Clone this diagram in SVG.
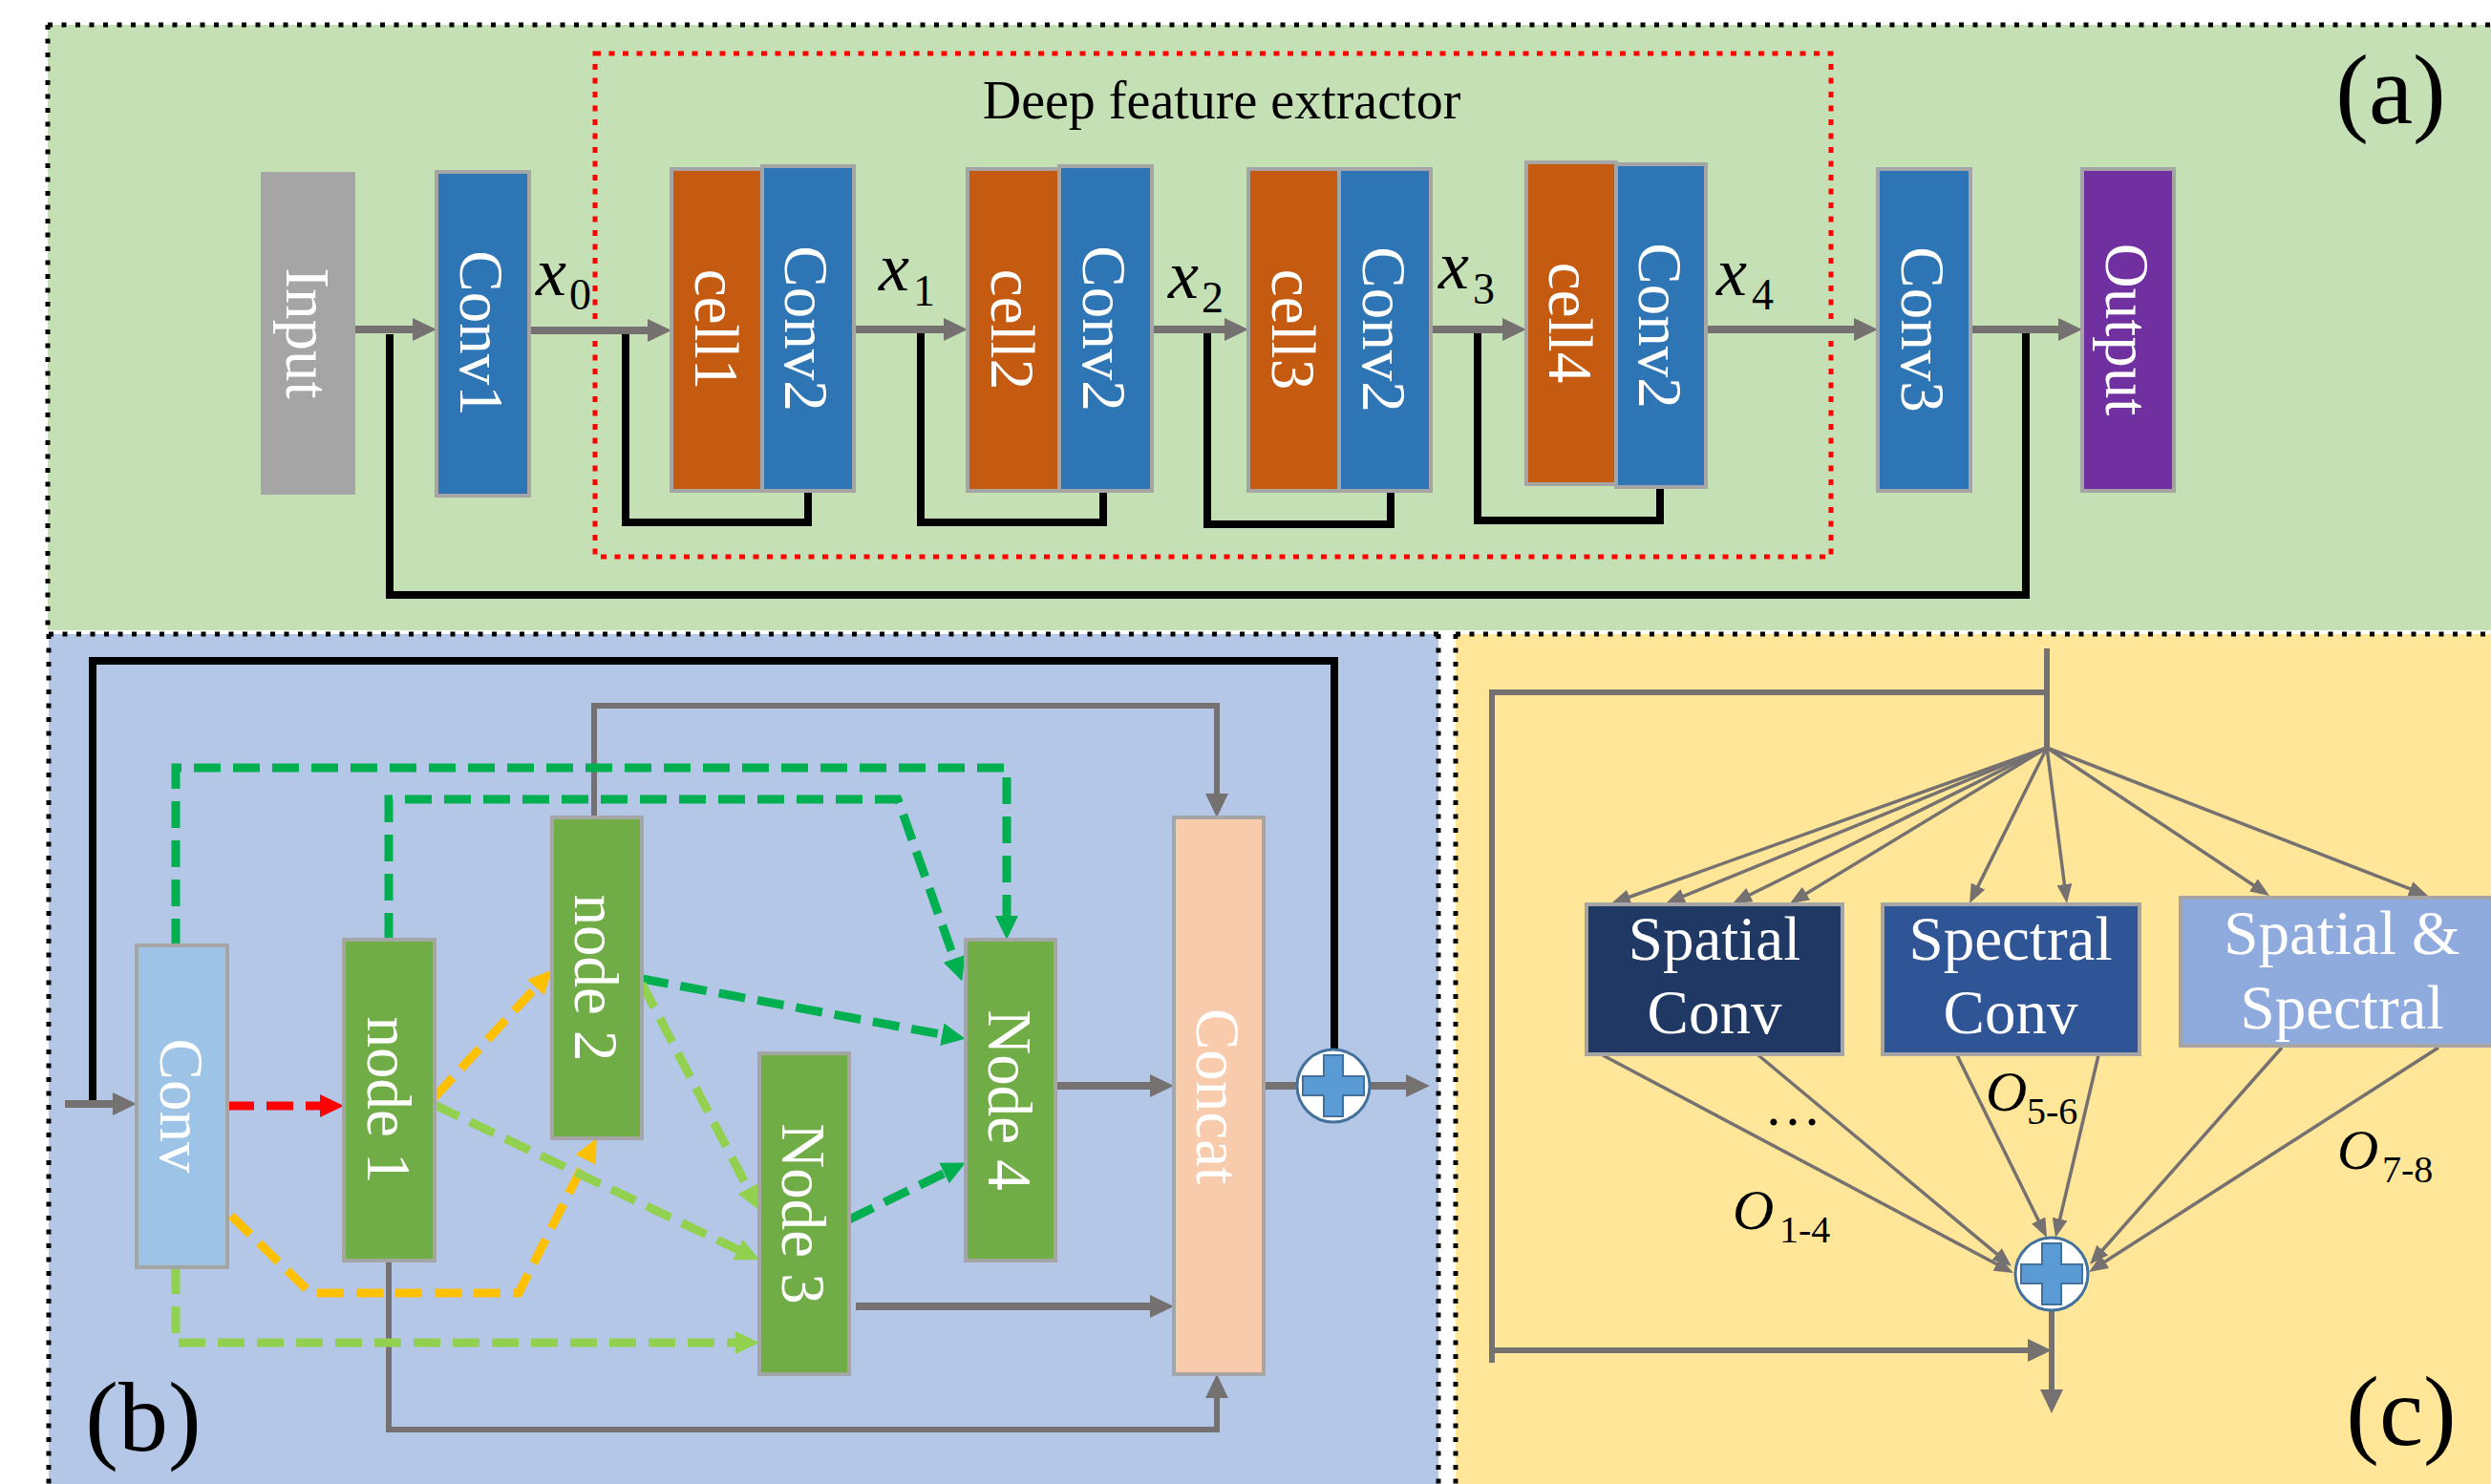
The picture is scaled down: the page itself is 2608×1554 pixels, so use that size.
<svg xmlns="http://www.w3.org/2000/svg" width="2608" height="1554" viewBox="0 0 2608 1554">
  <style>
    .lbl { font-family: "Liberation Serif", "Times New Roman", serif; fill: #fff; font-size: 65px; }
    .txt { font-family: "Liberation Serif", "Times New Roman", serif; fill: #000; }
    .it { font-style: italic; }
    .box { stroke: #A5A5A5; stroke-width: 4; }
    .dotb { fill: none; stroke: #000; stroke-width: 5; stroke-dasharray: 5 9.5; }
    .gray { fill: none; stroke: #767171; stroke-width: 8; }
    .gray6 { fill: none; stroke: #767171; stroke-width: 6; }
    .thin { fill: none; stroke: #767171; stroke-width: 3.5; }
    .blk { fill: none; stroke: #000; stroke-width: 8; }
    .dash { fill: none; stroke-width: 9; stroke-dasharray: 28 13; }
  </style>
  <defs>
    <marker id="ahGray" markerUnits="userSpaceOnUse" viewBox="0 0 25 24" markerWidth="25" markerHeight="24" refX="15" refY="12" orient="auto">
      <path d="M0,0 L25,12 L0,24 Z" fill="#767171"/>
    </marker>
    <marker id="ahThin" markerUnits="userSpaceOnUse" viewBox="0 0 20 16" markerWidth="20" markerHeight="16" refX="14" refY="8" orient="auto">
      <path d="M0,0 L20,8 L0,16 Z" fill="#767171"/>
    </marker>
    <marker id="ahRed" markerUnits="userSpaceOnUse" viewBox="0 0 25 24" markerWidth="25" markerHeight="24" refX="15" refY="12" orient="auto">
      <path d="M0,0 L25,12 L0,24 Z" fill="#FF0000"/>
    </marker>
    <marker id="ahDk" markerUnits="userSpaceOnUse" viewBox="0 0 25 24" markerWidth="25" markerHeight="24" refX="15" refY="12" orient="auto">
      <path d="M0,0 L25,12 L0,24 Z" fill="#00B050"/>
    </marker>
    <marker id="ahLt" markerUnits="userSpaceOnUse" viewBox="0 0 25 24" markerWidth="25" markerHeight="24" refX="15" refY="12" orient="auto">
      <path d="M0,0 L25,12 L0,24 Z" fill="#92D050"/>
    </marker>
    <marker id="ahOr" markerUnits="userSpaceOnUse" viewBox="0 0 25 24" markerWidth="25" markerHeight="24" refX="15" refY="12" orient="auto">
      <path d="M0,0 L25,12 L0,24 Z" fill="#FFC000"/>
    </marker>
    <!-- summation symbol: white disc with a blue cross -->
    <g id="plus">
      <circle r="38" fill="#fff" stroke="#41719C" stroke-width="3"/>
      <path d="M-10,-32 H10 V-10 H32 V10 H10 V32 H-10 V10 H-32 V-10 H-10 Z" fill="#5B9BD5" stroke="#41719C" stroke-width="2"/>
    </g>
  </defs>

  <rect width="2608" height="1554" fill="#fff"/>

  <!-- panel backgrounds -->
  <g id="panels">
    <rect x="50" y="26" width="2570" height="634" fill="#C5E0B4"/>
    <path class="dotb" d="M50,26 H2608 M50,26 V660"/>
    <rect x="51" y="664" width="1455" height="900" fill="#B4C7E7"/>
    <path class="dotb" d="M51,664 H1506 M51,664 V1554 M1506,664 V1554"/>
    <rect x="1524" y="664" width="1090" height="900" fill="#FFE699"/>
    <path class="dotb" d="M1524,664 H2608 M1524,664 V1554"/>
  </g>

  <!-- (a) overall network -->
  <g id="extractor-frame">
    <rect x="623" y="56" width="1294" height="527" fill="none" stroke="#FF0000" stroke-width="5" stroke-dasharray="6 8.5"/>
    <text class="txt" x="1279" y="124" font-size="56" text-anchor="middle">Deep feature extractor</text>
  </g>
  <text class="txt" x="2503" y="129" font-size="104" text-anchor="middle">(a)</text>

  <g id="connectors-a">
    <path class="blk" d="M408,350 V623 H2121 V345"/>
    <path class="blk" d="M655,345 V547 H846 V514"/>
    <path class="blk" d="M964,345 V547 H1155 V514"/>
    <path class="blk" d="M1264,345 V549 H1456 V514"/>
    <path class="blk" d="M1547,345 V545 H1738 V510"/>
    <g marker-end="url(#ahGray)">
      <path class="gray" d="M372,345 H447"/>
      <path class="gray" d="M554,346 H693"/>
      <path class="gray" d="M894,345 H1003"/>
      <path class="gray" d="M1206,345 H1297"/>
      <path class="gray" d="M1498,345 H1588"/>
      <path class="gray" d="M1786,345 H1956"/>
      <path class="gray" d="M2063,345 H2170"/>
    </g>
  </g>

  <g id="input">
    <rect x="273" y="180" width="99" height="338" fill="#A5A5A5"/>
    <text class="lbl" transform="translate(300,349) rotate(90)" text-anchor="middle">Input</text>
  </g>
  <g id="conv1">
    <rect class="box" x="457" y="180" width="97" height="339" fill="#2E75B6"/>
    <text class="lbl" transform="translate(482,349) rotate(90)" text-anchor="middle">Conv1</text>
  </g>
  <g id="cell1">
    <rect class="box" x="703" y="177" width="95" height="337" fill="#C55A11"/>
    <text class="lbl" transform="translate(728,345) rotate(90)" text-anchor="middle">cell1</text>
  </g>
  <g id="conv2-1">
    <rect class="box" x="798" y="174" width="96" height="340" fill="#2E75B6"/>
    <text class="lbl" transform="translate(822,344) rotate(90)" text-anchor="middle">Conv2</text>
  </g>
  <g id="cell2">
    <rect class="box" x="1013" y="177" width="96" height="337" fill="#C55A11"/>
    <text class="lbl" transform="translate(1038,345) rotate(90)" text-anchor="middle">cell2</text>
  </g>
  <g id="conv2-2">
    <rect class="box" x="1109" y="174" width="97" height="340" fill="#2E75B6"/>
    <text class="lbl" transform="translate(1134,344) rotate(90)" text-anchor="middle">Conv2</text>
  </g>
  <g id="cell3">
    <rect class="box" x="1307" y="177" width="95" height="337" fill="#C55A11"/>
    <text class="lbl" transform="translate(1332,345) rotate(90)" text-anchor="middle">cell3</text>
  </g>
  <g id="conv2-3">
    <rect class="box" x="1402" y="177" width="96" height="337" fill="#2E75B6"/>
    <text class="lbl" transform="translate(1427,345) rotate(90)" text-anchor="middle">Conv2</text>
  </g>
  <g id="cell4">
    <rect class="box" x="1598" y="170" width="94" height="337" fill="#C55A11"/>
    <text class="lbl" transform="translate(1622,338) rotate(90)" text-anchor="middle">cell4</text>
  </g>
  <g id="conv2-4">
    <rect class="box" x="1692" y="172" width="94" height="338" fill="#2E75B6"/>
    <text class="lbl" transform="translate(1716,341) rotate(90)" text-anchor="middle">Conv2</text>
  </g>
  <g id="conv3">
    <rect class="box" x="1966" y="177" width="97" height="337" fill="#2E75B6"/>
    <text class="lbl" transform="translate(1991,345) rotate(90)" text-anchor="middle">Conv3</text>
  </g>
  <g id="output">
    <rect class="box" x="2180" y="177" width="96" height="337" fill="#7030A0"/>
    <text class="lbl" transform="translate(2205,345) rotate(90)" text-anchor="middle">Output</text>
  </g>

  <!-- feature map labels -->
  <g id="feature-labels" class="txt">
    <text class="it" x="561" y="309" font-size="72">x</text><text x="596" y="324" font-size="46">0</text>
    <text class="it" x="920" y="304" font-size="72">x</text><text x="956" y="320" font-size="46">1</text>
    <text class="it" x="1223" y="312" font-size="72">x</text><text x="1258" y="327" font-size="46">2</text>
    <text class="it" x="1506" y="302" font-size="72">x</text><text x="1542" y="318" font-size="46">3</text>
    <text class="it" x="1797" y="309" font-size="72">x</text><text x="1834" y="324" font-size="46">4</text>
  </g>

  <!-- (b) cell structure -->
  <g id="connectors-b">
    <path class="blk" d="M97,1152 V692 H1397 V1099"/>
    <path class="gray6" d="M622,856 V739 H1274 V846" marker-end="url(#ahGray)"/>
    <path class="gray6" d="M407,1320 V1497 H1274 V1449" marker-end="url(#ahGray)"/>
    <path class="gray" d="M68,1156 H133" marker-end="url(#ahGray)"/>
    <path class="gray" d="M1105,1137 H1219" marker-end="url(#ahGray)"/>
    <path class="gray" d="M896,1368 H1219" marker-end="url(#ahGray)"/>
    <path class="gray" d="M1323,1137 H1360"/>
    <path class="gray" d="M1434,1137 H1487" marker-end="url(#ahGray)"/>
    <path class="dash" stroke="#FF0000" d="M238,1158 H350" marker-end="url(#ahRed)"/>
    <path class="dash" stroke="#00B050" d="M184,990 V804 H1054 V974" marker-end="url(#ahDk)"/>
    <path class="dash" stroke="#00B050" d="M407,984 V837 H940 L1004,1018" marker-end="url(#ahDk)"/>
    <path class="dash" stroke="#00B050" d="M672,1025 L1001,1086" marker-end="url(#ahDk)"/>
    <path class="dash" stroke="#00B050" d="M889,1277 L1002,1222" marker-end="url(#ahDk)"/>
    <path class="dash" stroke="#FFC000" d="M455,1149 L571,1023" marker-end="url(#ahOr)"/>
    <path class="dash" stroke="#FFC000" d="M242,1273 L325,1354 H543 L620,1201" marker-end="url(#ahOr)"/>
    <path class="dash" stroke="#92D050" d="M455,1157 L786,1315" marker-end="url(#ahLt)"/>
    <path class="dash" stroke="#92D050" d="M672,1030 L790,1258" marker-end="url(#ahLt)"/>
    <path class="dash" stroke="#92D050" d="M184,1327 V1406 H785" marker-end="url(#ahLt)"/>
  </g>

  <g id="conv-b">
    <rect class="box" x="143" y="990" width="95" height="337" fill="#9DC3E6"/>
    <text class="lbl" transform="translate(168,1158) rotate(90)" text-anchor="middle">Conv</text>
  </g>
  <g id="node1">
    <rect class="box" x="360" y="984" width="95" height="336" fill="#70AD47"/>
    <text class="lbl" transform="translate(385,1152) rotate(90)" text-anchor="middle">node 1</text>
  </g>
  <g id="node2">
    <rect class="box" x="578" y="856" width="94" height="336" fill="#70AD47"/>
    <text class="lbl" transform="translate(602,1024) rotate(90)" text-anchor="middle">node 2</text>
  </g>
  <g id="node3">
    <rect class="box" x="795" y="1103" width="94" height="336" fill="#70AD47"/>
    <text class="lbl" transform="translate(819,1271) rotate(90)" text-anchor="middle">Node 3</text>
  </g>
  <g id="node4">
    <rect class="box" x="1011" y="984" width="94" height="336" fill="#70AD47"/>
    <text class="lbl" transform="translate(1035,1152) rotate(90)" text-anchor="middle">Node 4</text>
  </g>
  <g id="concat">
    <rect class="box" x="1229" y="856" width="94" height="583" fill="#F8CBAD"/>
    <text class="lbl" transform="translate(1253,1148) rotate(90)" text-anchor="middle">Concat</text>
  </g>
  <g id="sum-b">
    <use href="#plus" x="1396" y="1137"/>
  </g>
  <text class="txt" x="150" y="1519" font-size="104" text-anchor="middle">(b)</text>

  <!-- (c) mixed operation -->
  <g id="connectors-c">
    <path class="gray6" d="M2143,679 V783" stroke-width="7"/>
    <path class="gray6" d="M2143,725 H1562 V1427" stroke-width="7"/>
    <path class="gray6" d="M1562,1414 H2138" stroke-width="7" marker-end="url(#ahGray)"/>
    <path class="gray6" d="M2148,1372 V1470" stroke-width="7" marker-end="url(#ahGray)"/>
    <g marker-end="url(#ahThin)">
      <path class="thin" d="M2143,783 L1692.7,944"/>
      <path class="thin" d="M2143,783 L1749.6,943.7"/>
      <path class="thin" d="M2143,783 L1819.4,943.3"/>
      <path class="thin" d="M2143,783 L1879.1,942.9"/>
      <path class="thin" d="M2143,783 L2064.7,940.6"/>
      <path class="thin" d="M2143,783 L2163.2,940"/>
      <path class="thin" d="M2143,783 L2371,934.7"/>
      <path class="thin" d="M2143,783 L2536.4,935.8"/>
      <path class="thin" d="M1678,1105 L2102.7,1330.2"/>
      <path class="thin" d="M1841,1105 L2101.4,1322.2"/>
      <path class="thin" d="M2049,1105 L2140.4,1290.6"/>
      <path class="thin" d="M2197,1105 L2153.4,1290.2"/>
      <path class="thin" d="M2389,1097 L2192,1319.5"/>
      <path class="thin" d="M2553,1097 L2192,1328.8"/>
    </g>
  </g>

  <g id="spatial-conv">
    <rect class="box" x="1661" y="947" width="268" height="157" fill="#203864"/>
    <text class="lbl" x="1795" y="1005" font-size="62" text-anchor="middle">Spatial</text>
    <text class="lbl" x="1795" y="1082" font-size="62" text-anchor="middle">Conv</text>
  </g>
  <g id="spectral-conv">
    <rect class="box" x="1971" y="947" width="269" height="157" fill="#2F5597"/>
    <text class="lbl" x="2105" y="1005" font-size="62" text-anchor="middle">Spectral</text>
    <text class="lbl" x="2105" y="1082" font-size="62" text-anchor="middle">Conv</text>
  </g>
  <g id="spatial-spectral">
    <rect class="box" x="2283" y="940" width="342" height="155" fill="#8FAADC"/>
    <text class="lbl" x="2452" y="999" font-size="62" text-anchor="middle">Spatial &amp;</text>
    <text class="lbl" x="2452" y="1077" font-size="62" text-anchor="middle">Spectral</text>
  </g>
  <g id="sum-c">
    <use href="#plus" x="2148" y="1334"/>
  </g>

  <g id="op-labels" class="txt">
    <text x="1877" y="1178" font-size="60" text-anchor="middle">…</text>
    <text class="it" x="1814" y="1287" font-size="60">O</text><text x="1863" y="1301" font-size="40">1-4</text>
    <text class="it" x="2079" y="1163" font-size="60">O</text><text x="2122" y="1177" font-size="40">5-6</text>
    <text class="it" x="2447" y="1224" font-size="60">O</text><text x="2494" y="1238" font-size="40">7-8</text>
  </g>
  <text class="txt" x="2514" y="1513" font-size="104" text-anchor="middle">(c)</text>
</svg>
